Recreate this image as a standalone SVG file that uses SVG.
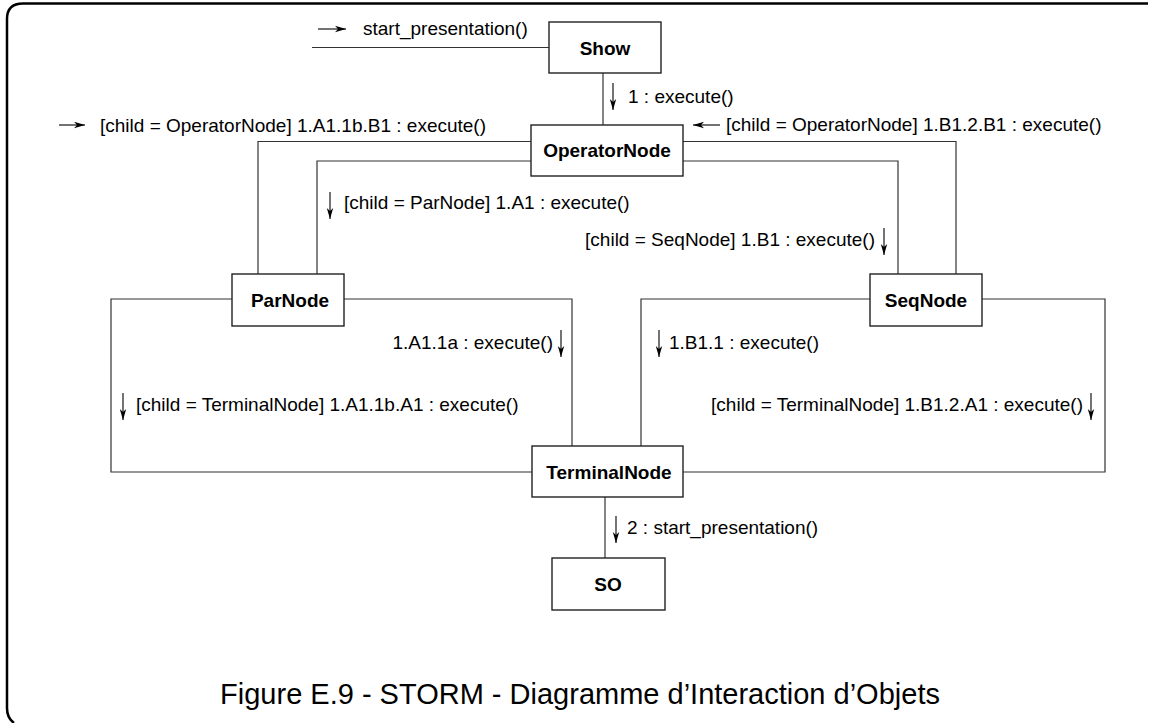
<svg xmlns="http://www.w3.org/2000/svg" width="1150" height="723" viewBox="0 0 1150 723">
<defs>
<marker id="ah" markerUnits="userSpaceOnUse" markerWidth="12" markerHeight="8" refX="11" refY="4" orient="auto">
<path d="M0,0.8 L11,4 L0,7.2 L3,4 Z" fill="#000"/>
</marker>
</defs>
<style>
.box{fill:#fff;stroke:#222;stroke-width:1.4}
.con{fill:none;stroke:#333;stroke-width:1.2}
.arr{fill:none;stroke:#000;stroke-width:1.1;marker-end:url(#ah)}
.lbl{font-family:"Liberation Sans",Arial,sans-serif;font-size:19px;fill:#000}
.nm{font-family:"Liberation Sans",Arial,sans-serif;font-size:19px;font-weight:bold;fill:#000;text-anchor:middle}
.cap{font-family:"Liberation Sans",Arial,sans-serif;font-size:29px;fill:#000;text-anchor:middle}
</style>
<rect x="0" y="0" width="1150" height="723" fill="#fff"/>
<path d="M1148,3.5 H23 Q7,3.5 7,19 V708 Q7,718 14,723" fill="none" stroke="#000" stroke-width="2.5"/>

<g id="connectors">
<path class="con" d="M312,47.5 H549"/>
<path class="con" d="M603,73 V125"/>
<path class="con" d="M531,141.5 H258 V274"/>
<path class="con" d="M531,161 H317 V274"/>
<path class="con" d="M683,141.5 H956 V274"/>
<path class="con" d="M683,161 H898 V274"/>
<path class="con" d="M232,299 H111 V472 H532"/>
<path class="con" d="M344,299 H572 V446"/>
<path class="con" d="M870,299 H641 V446"/>
<path class="con" d="M982,299 H1105 V472 H683"/>
<path class="con" d="M605,497 V558"/>

<line class="arr" x1="318" y1="29" x2="346" y2="29"/>
<text class="lbl" x="363" y="35">start_presentation()</text>

<line class="arr" x1="613" y1="83" x2="613" y2="110"/>
<text class="lbl" x="628" y="103">1 : execute()</text>

<line class="arr" x1="59" y1="125" x2="85" y2="125"/>
<text class="lbl" x="100" y="132">[child = OperatorNode] 1.A1.1b.B1 : execute()</text>

<line class="arr" x1="720" y1="125" x2="693" y2="125"/>
<text class="lbl" x="726" y="131">[child = OperatorNode] 1.B1.2.B1 : execute()</text>

<line class="arr" x1="330" y1="192" x2="330" y2="219"/>
<text class="lbl" x="344" y="209">[child = ParNode] 1.A1 : execute()</text>

<line class="arr" x1="884" y1="228" x2="884" y2="255"/>
<text class="lbl" x="875" y="246" text-anchor="end">[child = SeqNode] 1.B1 : execute()</text>

<line class="arr" x1="561" y1="330" x2="561" y2="357"/>
<text class="lbl" x="553" y="349" text-anchor="end">1.A1.1a : execute()</text>

<line class="arr" x1="123" y1="393" x2="123" y2="420"/>
<text class="lbl" x="136" y="411">[child = TerminalNode] 1.A1.1b.A1 : execute()</text>

<line class="arr" x1="659" y1="330" x2="659" y2="357"/>
<text class="lbl" x="669" y="349">1.B1.1 : execute()</text>

<line class="arr" x1="1091" y1="393" x2="1091" y2="420"/>
<text class="lbl" x="1083" y="411" text-anchor="end">[child = TerminalNode] 1.B1.2.A1 : execute()</text>

<line class="arr" x1="616" y1="516" x2="616" y2="543"/>
<text class="lbl" x="627" y="534">2 : start_presentation()</text>
</g>

<g id="show"><rect class="box" x="549" y="22" width="112" height="51"/><text class="nm" x="605" y="55">Show</text></g>
<g id="operatornode"><rect class="box" x="531" y="125" width="152" height="51"/><text class="nm" x="607" y="157">OperatorNode</text></g>
<g id="parnode"><rect class="box" x="232" y="274" width="112" height="52"/><text class="nm" x="290" y="307">ParNode</text></g>
<g id="seqnode"><rect class="box" x="870" y="274" width="112" height="52"/><text class="nm" x="926" y="307">SeqNode</text></g>
<g id="terminalnode"><rect class="box" x="532" y="446" width="151" height="51"/><text class="nm" x="609" y="479">TerminalNode</text></g>
<g id="so"><rect class="box" x="552" y="558" width="113" height="52"/><text class="nm" x="608" y="591">SO</text></g>

<text class="cap" x="580" y="704">Figure E.9 - STORM - Diagramme d’Interaction d’Objets</text>
</svg>
